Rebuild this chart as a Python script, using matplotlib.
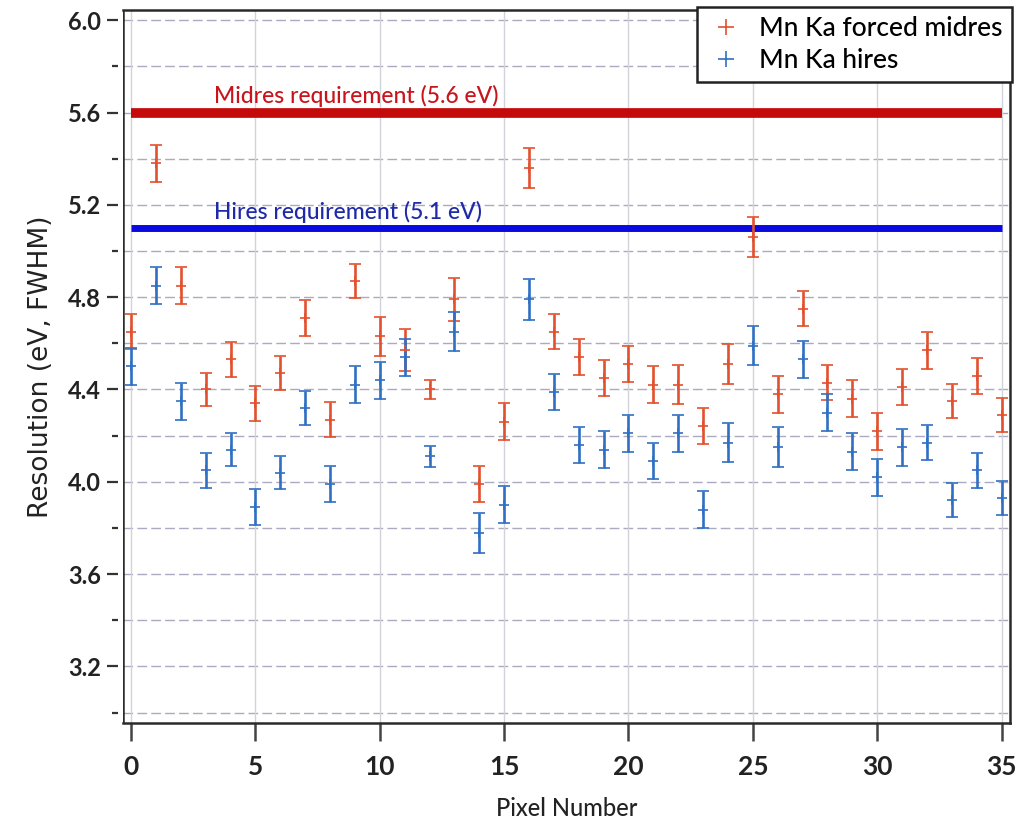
#!/usr/bin/env python3
"""
Resolution per pixel: Mn Ka forced midres vs hires, with requirement lines.
"""

import numpy as np
import matplotlib
matplotlib.use('Agg')
import matplotlib.pyplot as plt
from matplotlib.ticker import MultipleLocator, FormatStrFormatter
from matplotlib.lines import Line2D

# pixel index 0..35
PIXELS = np.arange(36)

# Mn Ka forced midres (eV FWHM) and 1-sigma errors
MIDRES = [4.65, 5.38, 4.85, 4.40, 4.53, 4.34, 4.47, 4.71, 4.27, 4.87,
          4.63, 4.57, 4.40, 4.79, 3.99, 4.26, 5.36, 4.65, 4.54, 4.45,
          4.51, 4.42, 4.42, 4.24, 4.51, 5.06, 4.38, 4.75, 4.43, 4.36,
          4.22, 4.41, 4.57, 4.35, 4.46, 4.29]
MIDRES_ERR = [0.075, 0.08, 0.08, 0.07, 0.075, 0.077, 0.074, 0.077, 0.077, 0.074,
              0.085, 0.09, 0.043, 0.095, 0.078, 0.08, 0.087, 0.076, 0.077, 0.079,
              0.079, 0.08, 0.085, 0.078, 0.085, 0.088, 0.08, 0.076, 0.077, 0.08,
              0.08, 0.077, 0.08, 0.075, 0.078, 0.074]

# Mn Ka hires
HIRES = [4.50, 4.85, 4.35, 4.05, 4.14, 3.89, 4.04, 4.32, 3.99, 4.42,
         4.44, 4.54, 4.11, 4.65, 3.78, 3.90, 4.79, 4.39, 4.16, 4.14,
         4.21, 4.09, 4.21, 3.88, 4.17, 4.59, 4.15, 4.53, 4.30, 4.13,
         4.02, 4.15, 4.17, 3.92, 4.05, 3.93]
HIRES_ERR = [0.08, 0.08, 0.08, 0.075, 0.073, 0.078, 0.073, 0.073, 0.077, 0.08,
             0.08, 0.08, 0.044, 0.085, 0.087, 0.08, 0.087, 0.079, 0.079, 0.079,
             0.08, 0.079, 0.08, 0.08, 0.085, 0.085, 0.086, 0.079, 0.08, 0.08,
             0.08, 0.08, 0.077, 0.073, 0.077, 0.074]

MIDRES_REQ = 5.6
HIRES_REQ = 5.1

COR_MID = '#e2502e'
COR_HI = '#3070c4'
NARROW = ['Lato', 'DejaVu Sans']


def main():
    fig = plt.figure(figsize=(10.22, 8.23), dpi=100)
    ax = fig.add_axes([0.1205, 0.1215, 0.8675, 0.866])

    # grid: dashed horizontals every 0.2, faint verticals every 5
    for y in np.arange(3.0, 6.01, 0.2):
        ax.axhline(y, color='#aaaac0', lw=1.0, ls=(0, (7, 3)), zorder=0)
    for x in range(0, 36, 5):
        ax.axvline(x, color='#d2d2da', lw=1.0, zorder=0)

    # requirement lines
    ax.plot([PIXELS[0], PIXELS[-1]], [MIDRES_REQ, MIDRES_REQ], color='#c40a0a', lw=7, zorder=2,
            solid_capstyle='butt')
    ax.plot([PIXELS[0], PIXELS[-1]], [HIRES_REQ, HIRES_REQ], color='#0a0ae0', lw=5, zorder=2,
            solid_capstyle='butt')
    ax.text(3.33, MIDRES_REQ + 0.04, f'Midres requirement ({MIDRES_REQ} eV)',
            color='#c8141c', fontsize=16.5, family=NARROW, fontweight='medium',
            va='baseline', ha='left')
    ax.text(3.33, HIRES_REQ + 0.04, f'Hires requirement ({HIRES_REQ} eV)',
            color='#1e2aa8', fontsize=16.5, family=NARROW, fontweight='medium',
            va='baseline', ha='left')

    ax.errorbar(PIXELS, MIDRES, yerr=MIDRES_ERR, fmt='+', color=COR_MID, ms=7, mew=1.2,
                elinewidth=1.9, capsize=4, capthick=2.2, zorder=3)
    ax.errorbar(PIXELS, HIRES, yerr=HIRES_ERR, fmt='+', color=COR_HI, ms=7, mew=1.2,
                elinewidth=1.9, capsize=4, capthick=2.2, zorder=3)

    ax.set_xlim(-0.32, 35.33)
    ax.set_ylim(2.955, 6.043)

    ax.xaxis.set_major_locator(MultipleLocator(5))
    ax.yaxis.set_major_locator(MultipleLocator(0.4))
    ax.yaxis.set_minor_locator(MultipleLocator(0.2))
    ax.yaxis.set_major_formatter(FormatStrFormatter('%.1f'))

    for s in ax.spines.values():
        s.set_linewidth(1.8)
        s.set_color('#2a2a2a')
    # y ticks sit a little off the frame
    ax.spines['left'].set_position(('outward', 4))
    ax.spines['left'].set_visible(False)
    ax.axvline(-0.32, color='#2a2a2a', lw=1.8, zorder=5)

    ax.tick_params(axis='x', direction='out', length=13, width=1.8, color='#444444',
                   pad=10, labelsize=19)
    ax.tick_params(axis='y', which='major', direction='out', length=8, width=1.6,
                   color='#333333', pad=4, labelsize=17)
    ax.tick_params(axis='y', which='minor', direction='out', length=4, width=1.6,
                   color='#333333')
    for lab in ax.get_xticklabels() + ax.get_yticklabels():
        lab.set_family(NARROW)
        lab.set_fontweight('bold')
        lab.set_color('#222222')

    ax.set_xlabel('Pixel Number', fontsize=17, family=NARROW, fontweight='medium',
                  color='#222222', labelpad=13)
    ax.set_ylabel('Resolution (eV, FWHM)', fontsize=19, color='#222222', labelpad=10)

    handles = [
        Line2D([], [], marker='+', ls='none', color=COR_MID, ms=11, mew=1.2),
        Line2D([], [], marker='+', ls='none', color=COR_HI, ms=11, mew=1.2),
    ]
    leg = ax.legend(handles, ['Mn Ka forced midres', 'Mn Ka hires'],
                    loc='upper right', bbox_to_anchor=(0.990, 0.9915),
                    bbox_transform=fig.transFigure, borderaxespad=0,
                    prop={'family': NARROW, 'size': 19, 'weight': 'medium'},
                    fancybox=False, framealpha=1, edgecolor='#222222',
                    handletextpad=0.5, handlelength=1.5, labelspacing=0.25,
                    borderpad=0.35)
    leg.get_frame().set_linewidth(1.8)
    leg.set_zorder(10)

    fig.savefig('out.png', dpi=100)
    plt.close(fig)


if __name__ == '__main__':
    main()
